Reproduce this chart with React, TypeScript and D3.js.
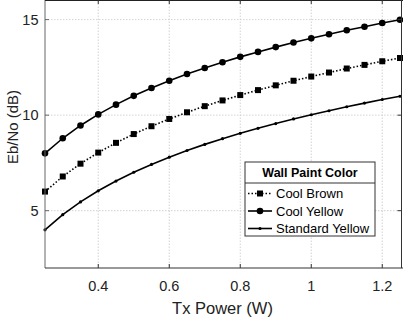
import React from "react";
import * as d3 from "d3";

const txPower = [0.25, 0.3, 0.35, 0.4, 0.45, 0.5, 0.55, 0.6, 0.65, 0.7, 0.75, 0.8, 0.85, 0.9, 0.95, 1.0, 1.05, 1.1, 1.15, 1.2, 1.25];
const coolYellow = [8.0, 8.79, 9.46, 10.04, 10.55, 11.01, 11.42, 11.8, 12.15, 12.47, 12.77, 13.05, 13.31, 13.56, 13.8, 14.02, 14.23, 14.44, 14.63, 14.82, 14.99];
const coolBrown = [6.0, 6.79, 7.46, 8.04, 8.55, 9.01, 9.42, 9.8, 10.15, 10.47, 10.77, 11.05, 11.31, 11.56, 11.8, 12.02, 12.23, 12.44, 12.63, 12.82, 12.99];
const standardYellow = [4.0, 4.79, 5.46, 6.04, 6.55, 7.01, 7.42, 7.8, 8.15, 8.47, 8.77, 9.05, 9.31, 9.56, 9.8, 10.02, 10.23, 10.44, 10.63, 10.82, 10.99];
const xTicks = [0.4, 0.6, 0.8, 1, 1.2];
const yTicks = [5, 10, 15];
const legendTitle = "Wall Paint Color";
const seriesNames = ["Cool Brown", "Cool Yellow", "Standard Yellow"];

const W = 403, H = 318;
const left = 45, right = 400, top = 0.5, bottom = 268;
const font = "Liberation Sans, Arial, Helvetica, sans-serif";

export default function App() {
  const x = d3.scaleLinear().domain([0.25, 1.25]).range([left, right]);
  const y = d3.scaleLinear().domain([2, 16]).range([bottom, top]);
  const line = (vals: number[]) =>
    d3.line<number>().x((_, i) => x(txPower[i])).y((v) => y(v))(vals) || "";

  const series = [
    { name: seriesNames[0], vals: coolBrown, dash: "1.5,2", marker: "square" },
    { name: seriesNames[1], vals: coolYellow, dash: "", marker: "circle" },
    { name: seriesNames[2], vals: standardYellow, dash: "", marker: "dot" },
  ];

  const marker = (m: string, cx: number, cy: number, key: any) => {
    if (m === "circle") return <circle key={key} cx={cx} cy={cy} r={3.3} fill="#000" />;
    if (m === "square") return <rect key={key} x={cx - 3} y={cy - 3} width={6} height={6} fill="#000" />;
    return <circle key={key} cx={cx} cy={cy} r={1.6} fill="#000" />;
  };

  const lx0 = 245, lx1 = 375, ly0 = 162, ly1 = 236;
  const rowY = [193.5, 211, 228.5];

  return (
    <svg width={W} height={H} style={{ position: "absolute", left: 0, top: 0, background: "#fff" }}>
      <rect x={0} y={0} width={W} height={H} fill="#fff" />
      {/* grid */}
      {xTicks.map((t) => (
        <line key={"gx" + t} x1={x(t)} x2={x(t)} y1={top} y2={bottom} stroke="#c8c8c8" strokeWidth={0.8} strokeDasharray="1.5,1.5" />
      ))}
      {yTicks.map((t) => (
        <line key={"gy" + t} x1={left} x2={right} y1={y(t)} y2={y(t)} stroke="#c8c8c8" strokeWidth={0.8} strokeDasharray="1.5,1.5" />
      ))}
      {/* series */}
      {series.map((s) => (
        <g key={s.name}>
          <path d={line(s.vals)} fill="none" stroke="#000" strokeWidth={1.6} strokeDasharray={s.dash} />
          {s.vals.map((v, i) => marker(s.marker, x(txPower[i]), y(v), i))}
        </g>
      ))}
      {/* axes box */}
      <line x1={left} x2={left} y1={0} y2={bottom} stroke="#666" strokeWidth={1} />
      <line x1={left} x2={W} y1={bottom} y2={bottom} stroke="#333" strokeWidth={1} />
      <line x1={left} x2={W} y1={0.5} y2={0.5} stroke="#222" strokeWidth={1} />
      <line x1={right + 1.5} x2={right + 1.5} y1={0} y2={bottom} stroke="#333" strokeWidth={1} />
      {/* ticks */}
      {xTicks.map((t) => (
        <g key={"tx" + t}>
          <line x1={x(t)} x2={x(t)} y1={bottom} y2={bottom - 4} stroke="#333" />
          <line x1={x(t)} x2={x(t)} y1={0} y2={4} stroke="#333" />
          <text x={x(t)} y={291} textAnchor="middle" fontFamily={font} fontSize={14.5} fill="#222">
            {String(t)}
          </text>
        </g>
      ))}
      {yTicks.map((t) => (
        <g key={"ty" + t}>
          <line x1={left} x2={left + 4} y1={y(t)} y2={y(t)} stroke="#666" />
          <line x1={right + 1.5} x2={right - 2.5} y1={y(t)} y2={y(t)} stroke="#333" />
          <text x={38.5} y={y(t) + 5} textAnchor="end" fontFamily={font} fontSize={14.5} fill="#222">
            {String(t)}
          </text>
        </g>
      ))}
      {/* axis labels */}
      <text x={222.5} y={314} textAnchor="middle" fontFamily={font} fontSize={16.5} fill="#222">
        Tx Power (W)
      </text>
      <text transform={`translate(17.5,127) rotate(-90)`} textAnchor="middle" fontFamily={font} fontSize={15} fill="#222">
        Eb/No (dB)
      </text>
      {/* legend */}
      <rect x={lx0} y={ly0} width={lx1 - lx0} height={ly1 - ly0} fill="#fff" stroke="#333" strokeWidth={1} />
      <line x1={lx0} x2={lx1} y1={183} y2={183} stroke="#333" strokeWidth={1} />
      <text x={(lx0 + lx1) / 2} y={177} textAnchor="middle" fontFamily={font} fontSize={12.5} fontWeight="bold" fill="#000">
        {legendTitle}
      </text>
      {series.map((s, i) => (
        <g key={"lg" + s.name}>
          <line x1={248} x2={272} y1={rowY[i]} y2={rowY[i]} stroke="#000" strokeWidth={1.6} strokeDasharray={s.dash} />
          {marker(s.marker, 260, rowY[i], "m")}
          <text x={276} y={rowY[i] + 4.5} fontFamily={font} fontSize={13} fill="#000">
            {s.name}
          </text>
        </g>
      ))}
    </svg>
  );
}
